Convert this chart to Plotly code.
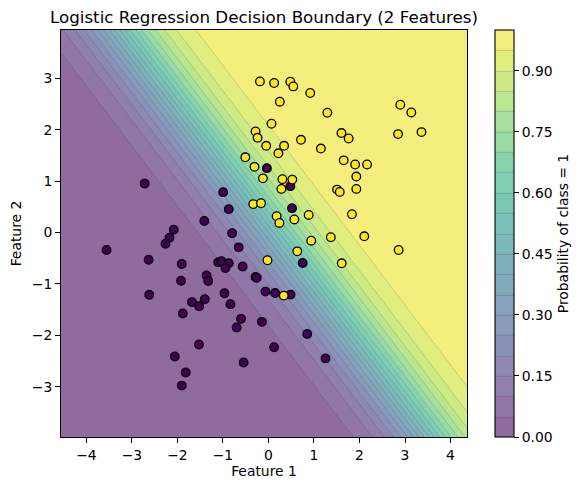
import numpy as np
import plotly.graph_objects as go
from plotly.colors import sample_colorscale, unlabel_rgb

# ---- data ----
class0_f1 = [-2.721, -2.081, -2.175, -2.262, -3.559, -2.633, -1.906, -1.921, -2.620, -1.681,
             -1.410, -0.035, 0.480, -0.996, -0.873, 0.517, -0.799, -0.655, 0.751, -1.105,
             -1.033, -0.873, -0.945, -0.568, -0.284, -0.258, -1.360, -1.323, -0.066, 0.146,
             0.485, -0.967, -1.400, -1.522, -1.884, -1.528, -2.059, -1.819, -1.906, -0.836,
             -0.603, -0.699, -0.144, 0.852, 0.124, 1.253, -0.546]
class0_f2 = [0.953, 0.057, -0.099, -0.216, -0.339, -0.528, -0.612, -0.938, -1.211, -1.353,
             0.226, 1.253, 0.903, 0.786, 0.454, 0.474, -0.014, -0.287, -0.593, -0.579,
             -0.559, -0.598, -0.690, -0.661, -0.865, -0.881, -0.836, -0.943, -1.148, -1.177,
             -1.207, -1.181, -1.298, -1.431, -1.573, -2.177, -2.411, -2.723, -2.977, -1.392,
             -1.678, -1.846, -1.737, -1.971, -2.230, -2.448, -2.528]

class1_f1 = [-0.188, 0.124, 0.480, 0.546, 0.917, 0.249, 1.293, 0.066, -0.284, -0.240,
             0.714, 0.343, -0.050, 0.218, 1.151, -0.509, -0.308, 2.897, 3.138, 1.603,
             1.762, 2.847, 3.362, 1.653, 1.904, 2.166, -0.122, 0.306, 0.524, 0.284,
             1.507, 1.566, 1.930, 1.930, 1.834, -0.334, -0.164, 0.884, 0.179, 0.240,
             0.568, 1.369, 2.105, 2.860, 0.939, 0.633, -0.022, 1.609, 0.336]
class1_f2 = [2.941, 2.910, 2.936, 2.844, 2.715, 2.546, 2.331, 2.117, 1.967, 1.844,
             1.805, 1.688, 1.688, 1.542, 1.635, 1.464, 1.279, 2.487, 2.337, 1.936,
             1.830, 1.916, 1.955, 1.405, 1.324, 1.324, 1.055, 1.039, 1.031, 0.850,
             0.836, 0.791, 1.090, 0.850, 0.357, 0.554, 0.571, 0.343, 0.320, 0.187,
             0.255, -0.090, -0.072, -0.339, -0.158, -0.365, -0.538, -0.598, -1.226]

# estimated logistic-regression model
coef_f1 = 1.761
coef_f2 = 1.512
intercept = -0.208

cbar_ticks = [0.00, 0.15, 0.30, 0.45, 0.60, 0.75, 0.90]
cbar_labels = ["0.00", "0.15", "0.30", "0.45", "0.60", "0.75", "0.90"]
level_step = 0.05

# ---- grid ----
all_f1 = class0_f1 + class1_f1
all_f2 = class0_f2 + class1_f2
x_min, x_max = min(all_f1) - 1, max(all_f1) + 1
y_min, y_max = min(all_f2) - 1, max(all_f2) + 1
gx = np.linspace(x_min, x_max, 300)
gy = np.linspace(y_min, y_max, 300)
XX, YY = np.meshgrid(gx, gy)
Z = 1.0 / (1.0 + np.exp(-(coef_f1 * XX + coef_f2 * YY + intercept)))

# viridis bands blended with white (alpha 0.6)
n_bands = int(round(1 / level_step))
alpha = 0.6
stops = []
for k in range(n_bands):
    c = unlabel_rgb(sample_colorscale("Viridis", [(k + 0.5) / n_bands])[0])
    r, g, b = [alpha * v + (1 - alpha) * 255 for v in c]
    stops.append([k / (n_bands - 1), f"rgb({r:.0f},{g:.0f},{b:.0f})"])

# page body has an 8px offset; figure coordinates are relative to it
OFF = 8
W, H = 584 - OFF, 490 - OFF
L, R, T, B = 60.7 - OFF, 467.3 - OFF, 30.3 - OFF, 436.7 - OFF
plot_w = R - L
cbar_left = 495 - OFF

fig = go.Figure()
fig.add_trace(go.Contour(
    x=gx, y=gy, z=Z, zmin=0, zmax=1,
    colorscale=stops,
    contours=dict(start=level_step, end=1 - level_step, size=level_step, coloring="fill", showlines=True),
    line=dict(width=0.6, color="rgba(40,20,80,0.28)"),
    colorbar=dict(
        x=(cbar_left - L) / plot_w, xanchor="left", y=0.5, yanchor="middle",
        xpad=0, ypad=0,
        len=1, lenmode="fraction", thickness=19, thicknessmode="pixels",
        outlinewidth=1.1, outlinecolor="black",
        ticks="outside", ticklen=4.9, tickwidth=1.1, tickcolor="black",
        tickvals=cbar_ticks, ticktext=cbar_labels,
        tickfont=dict(size=13.9, family="DejaVu Sans", color="black"),
        title=dict(text="Probability of class = 1", side="right",
                   font=dict(size=13.9, family="DejaVu Sans", color="black")),
    ),
    hoverinfo="skip",
))

fig.add_trace(go.Scatter(
    x=class0_f1, y=class0_f2, mode="markers",
    marker=dict(size=8.6, color="#440154", line=dict(color="black", width=1.3)),
    showlegend=False,
))
fig.add_trace(go.Scatter(
    x=class1_f1, y=class1_f2, mode="markers",
    marker=dict(size=8.6, color="#fde725", line=dict(color="black", width=1.3)),
    showlegend=False,
))

axis_common = dict(
    ticks="outside", ticklen=4.9, tickwidth=1.1, tickcolor="black",
    showline=True, linecolor="black", linewidth=1.1, mirror=True,
    showgrid=False, zeroline=False, automargin=False,
    tickfont=dict(size=13.9, family="DejaVu Sans", color="black"),
)
fig.update_xaxes(range=[x_min, x_max], tickvals=[-4, -3, -2, -1, 0, 1, 2, 3, 4],
                 title=dict(text="Feature 1", standoff=4, font=dict(size=13.9)), **axis_common)
fig.update_yaxes(range=[y_min, y_max], tickvals=[-3, -2, -1, 0, 1, 2, 3],
                 title=dict(text="Feature 2", standoff=6, font=dict(size=13.9)), **axis_common)

fig.update_layout(
    width=W, height=H,
    margin=dict(l=L, r=W - R, t=T, b=H - B, autoexpand=False),
    plot_bgcolor="white", paper_bgcolor="white",
    font=dict(family="DejaVu Sans", size=13.9, color="black"),
    showlegend=False,
    title=dict(text="Logistic Regression Decision Boundary (2 Features)",
               x=0.5, xref="paper", xanchor="center",
               y=1 - (17 - OFF) / H, yref="container", yanchor="middle",
               font=dict(size=16.7, family="DejaVu Sans", color="black")),
)

fig.write_html("out.html")
